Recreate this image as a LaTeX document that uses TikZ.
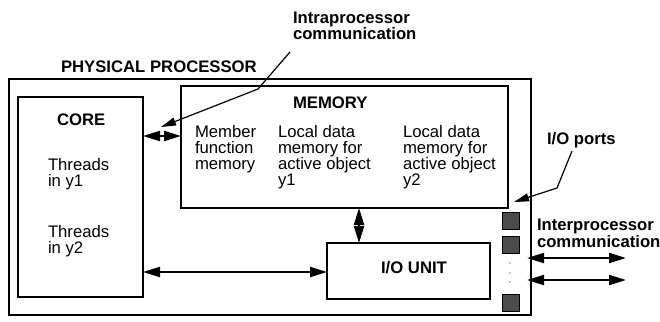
\documentclass[tikz,border=0pt]{standalone}
\usepackage{fontspec}
\setmainfont{Liberation Sans}
\usetikzlibrary{arrows.meta}
\begin{document}
\begin{tikzpicture}[x=1pt,y=-1pt,
  every node/.style={inner sep=0pt,outer sep=0pt,font=\fontsize{16.7}{16}\selectfont},
  txt/.style={anchor=base west,align=left},
  ttl/.style={anchor=base west,align=left,font=\fontsize{16.7}{15.5}\selectfont\bfseries},
  box/.style={draw,line width=1.4pt},
  port/.style={draw,line width=0.8pt,fill=black!70,minimum width=17pt,minimum height=17pt},
  link/.style={line width=2.2pt,{Triangle[length=17pt,width=10pt]}-{Triangle[length=17pt,width=10pt]}},
  callout/.style={line width=1.2pt,-{Triangle[length=15pt,width=8pt]}}]
\useasboundingbox (0,0) rectangle (660,321);

% enclosing processor and its units
\node[box,line width=2.4pt,minimum width=522pt,minimum height=236pt,anchor=north west] (proc) at (9,79) {};
\node[box,minimum width=125pt,minimum height=200pt,anchor=north west] (core) at (18,97) {};
\node[box,minimum width=327pt,minimum height=122pt,anchor=north west] (mem) at (181,86) {};
\node[box,minimum width=163pt,minimum height=56pt,anchor=north west] (io) at (327,243) {};

% port squares on the right wall
\node[port] (p1) at (510.5,220.5) {};
\node[port] (p2) at (510.5,245) {};
\node[port] (p3) at (510.5,302.5) {};
\foreach \yy in {263,273,282} \fill (510,\yy) circle (0.7pt);

% labels (a multi-line node sits on the baseline of its last line)
\node[ttl] (tproc) at (61,72) {PHYSICAL PROCESSOR};
\node[ttl] (tcore) at (57,125) {CORE};
\node[ttl] (tmem) at (293,108) {MEMORY};
\node[ttl,anchor=base] (tio) at (414,273) {I/O UNIT};
\node[ttl] (tintra) at (293,40) {Intraprocessor\\communication};
\node[ttl] (tports) at (547,144) {I/O ports};
\node[ttl] (tinter) at (537,247) {Interprocessor\\communication};

\node[txt] (mf) at (195,169) {Member\\function\\memory};
\node[txt] (ld1) at (278,185) {Local data\\memory for\\active object\\y1};
\node[txt] (ld2) at (403,185) {Local data\\memory for\\active object\\y2};
\node[txt] (th1) at (48,186) {Threads\\in y1};
\node[txt] (th2) at (48,253) {Threads\\in y2};

% connections between units
\draw[link] (core.east |- 0,136) coordinate (cm1) -- (mem.west |- 0,136) coordinate (cm2);
\draw[link] (core.east |- 0,272) coordinate (ci1) -- (io.west |- 0,272) coordinate (ci2);
\draw[link] (359,0 |- mem.south) coordinate (mi1) -- (359,0 |- io.north) coordinate (mi2);

% interprocessor links
\coordinate (x1a) at (527,258); \coordinate (x1b) at (626,258);
\coordinate (x2a) at (527,280); \coordinate (x2b) at (626,280);
\draw[link] (x1a) -- (x1b);
\draw[link] (x2a) -- (x2b);

% callouts
\coordinate (c1s) at (290,52); \coordinate (c1k) at (258,89); \coordinate (c1e) at (161,127);
\draw[callout] (c1s) -- (c1k) -- (c1e);
\coordinate (c2s) at (572,151); \coordinate (c2k) at (557,188); \coordinate (c2e) at (514,202);
\draw[callout] (c2s) -- (c2k) -- (c2e);
\end{tikzpicture}
\end{document}
